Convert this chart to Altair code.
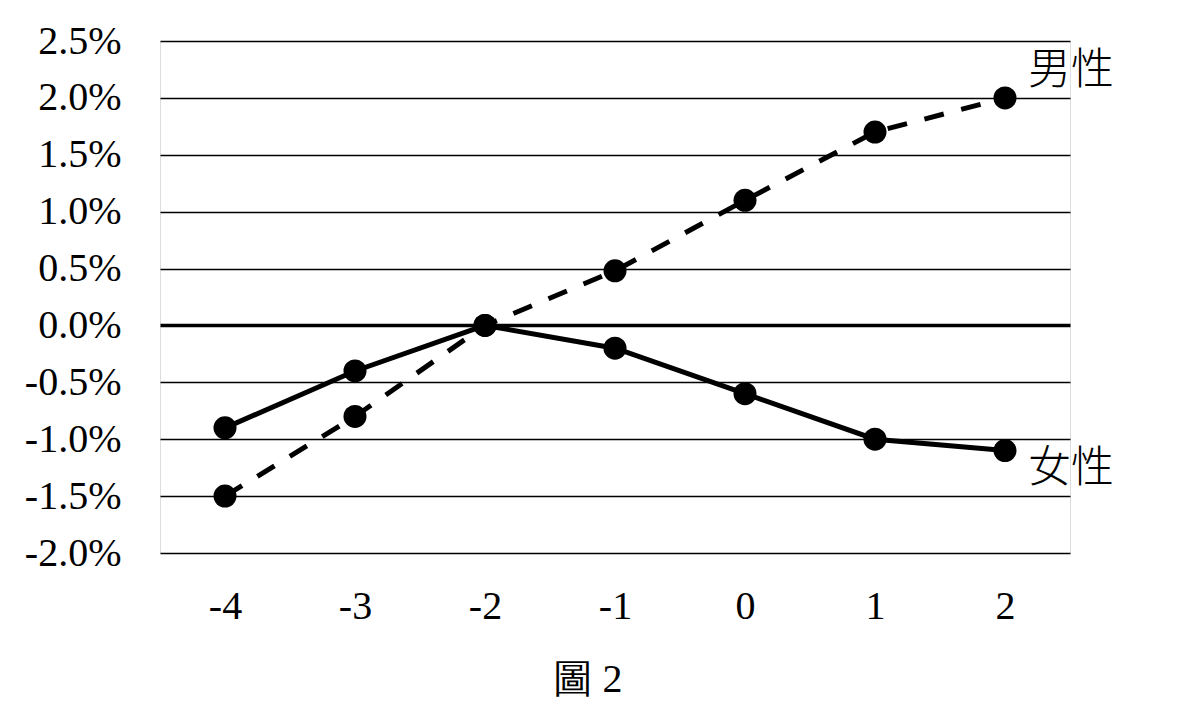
import altair as alt
import pandas as pd

x_vals = [-4, -3, -2, -1, 0, 1, 2]
male = [-0.015, -0.008, 0.0, 0.0048, 0.011, 0.017, 0.020]
female = [-0.009, -0.004, 0.0, -0.002, -0.006, -0.010, -0.011]
y_ticks = [-0.02, -0.015, -0.01, -0.005, 0.0, 0.005, 0.01, 0.015, 0.02, 0.025]
series_names = ["男性", "女性"]

rows = []
for xv, m, f in zip(x_vals, male, female):
    rows.append({"x": xv, "y": m, "s": series_names[0]})
    rows.append({"x": xv, "y": f, "s": series_names[1]})
df = pd.DataFrame(rows)

FONT = "Times New Roman, Liberation Serif, DejaVu Serif, serif"
CJK = "Noto Sans CJK TC"

xenc = alt.X(
    "x:Q",
    scale=alt.Scale(domain=[-4.5, 2.5], nice=False, zero=False),
    axis=alt.Axis(
        values=x_vals,
        grid=False, domain=False, ticks=False, tickSize=0,
        labelExpr="datum.value + ''",
        labelFont=FONT, labelFontSize=40, labelColor="black",
        labelBaseline="alphabetic", labelPadding=65,
        title="圖 2", titleFont=FONT, titleFontSize=40, titleFontWeight="normal",
        titleColor="black", titleX=427, titleY=138, titleAlign="center",
        titleBaseline="alphabetic", titleAnchor="start",
    ),
)
yenc = alt.Y(
    "y:Q",
    scale=alt.Scale(domain=[-0.02, 0.025], nice=False, zero=False),
    axis=alt.Axis(
        values=y_ticks,
        domain=False, ticks=False, tickSize=0,
        grid=True, gridColor="black",
        gridWidth={"condition": {"test": "abs(datum.value) < 1e-9", "value": 3.5}, "value": 1.3},
        labelExpr="replace(format(datum.value, '.1%'), '\u2212', '-')",
        labelFont=FONT, labelFontSize=40, labelColor="black",
        labelPadding=39, title=None,
    ),
)

base = alt.Chart(df).encode(x=xenc, y=yenc)

male_line = base.transform_filter(alt.datum.s == series_names[0]).mark_line(
    color="black", strokeWidth=5, strokeDash=[20, 18]
)
female_line = base.transform_filter(alt.datum.s == series_names[1]).mark_line(
    color="black", strokeWidth=5
)
points = base.mark_point(filled=True, shape="circle", size=530, color="black", opacity=1)

male_label = base.transform_filter(
    (alt.datum.s == series_names[0]) & (alt.datum.x == 2)
).mark_text(align="left", baseline="middle", dx=23, dy=-27, font=CJK, fontSize=43, fontWeight=300, color="black").encode(text="s:N")
female_label = base.transform_filter(
    (alt.datum.s == series_names[1]) & (alt.datum.x == 2)
).mark_text(align="left", baseline="middle", dx=23, dy=18, font=CJK, fontSize=43, fontWeight=300, color="black").encode(text="s:N")

chart = alt.layer(male_line, female_line, points, male_label, female_label).properties(
    width=910,
    height=512,
    autosize=alt.AutoSizeParams(type="none"),
    padding={"left": 152, "top": 33, "right": 100, "bottom": 148},
).configure_view(stroke=None).configure(background="white")

chart.save("out.html", embed_options={"renderer": "svg", "actions": False})
